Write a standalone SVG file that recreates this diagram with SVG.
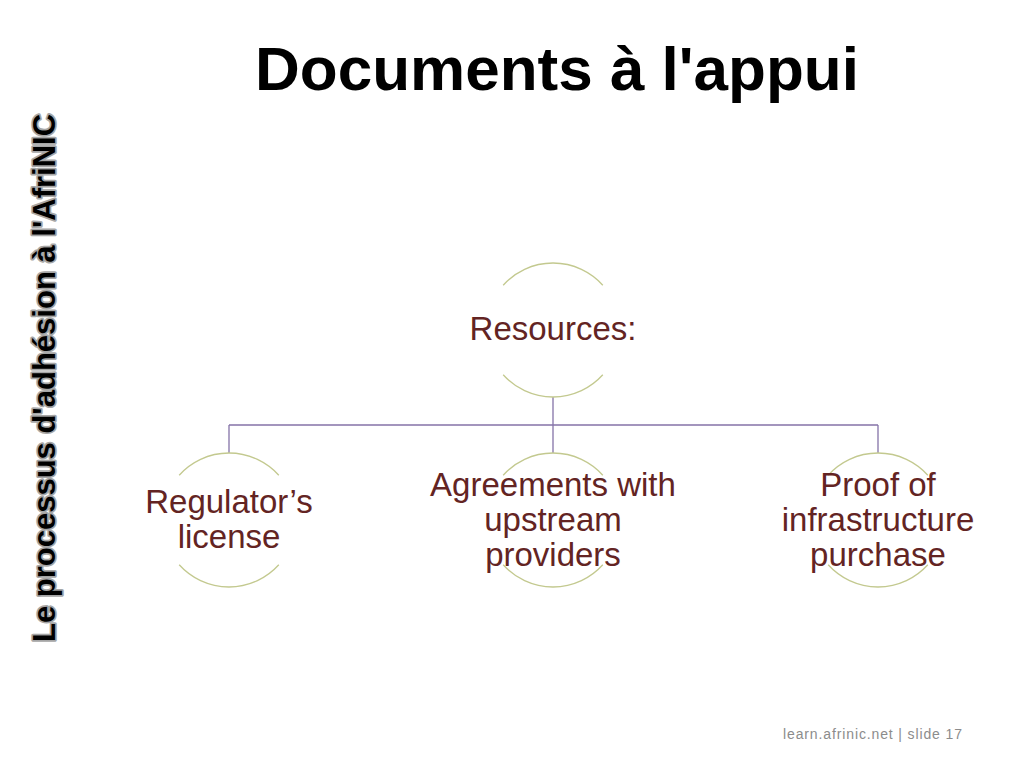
<svg xmlns="http://www.w3.org/2000/svg" width="1024" height="768" viewBox="0 0 1024 768">
<style>
.title{font-family:"Liberation Sans",Arial,sans-serif;font-weight:bold;font-size:62px;fill:#000;}
.side{font-family:"Liberation Sans",Arial,sans-serif;font-weight:bold;font-size:31px;fill:#000;stroke:#a6a6a6;stroke-width:3.5px;paint-order:stroke;stroke-linejoin:round;}
.lbl{font-family:"Liberation Sans",Arial,sans-serif;font-size:33px;fill:#632423;text-anchor:middle;}
.arc{fill:none;stroke:#c3c98f;stroke-width:1.3;}
.conn{fill:none;stroke:#8573a8;stroke-width:1.3;}
.foot{font-family:"Liberation Sans",Arial,sans-serif;font-size:14px;fill:#8c8c8c;}
</style>
<rect width="1024" height="768" fill="#fff"/>
<text class="title" x="557" y="90" text-anchor="middle">Documents à l'appui</text>
<text class="side" transform="translate(55,378) rotate(-90)" text-anchor="middle">Le processus d'adhésion à l'AfriNIC</text>
<g id="connectors">
<path class="conn" d="M553 397 V425 M229 425 H878 M229 425 V453 M553 425 V453 M878 425 V453"/>
</g>
<g id="node-resources">
<path class="arc" d="M503.2 285.2 A67 67 0 0 1 602.8 285.2 M602.8 374.8 A67 67 0 0 1 503.2 374.8"/>
<text class="lbl" x="553" y="340">Resources:</text>
</g>
<g id="node-regulator">
<path class="arc" d="M179.2 475.2 A67 67 0 0 1 278.8 475.2 M278.8 564.8 A67 67 0 0 1 179.2 564.8"/>
<text class="lbl" x="229" y="513">Regulator’s</text>
<text class="lbl" x="229" y="548">license</text>
</g>
<g id="node-agreements">
<path class="arc" d="M503.2 475.2 A67 67 0 0 1 602.8 475.2 M602.8 564.8 A67 67 0 0 1 503.2 564.8"/>
<text class="lbl" x="553" y="496">Agreements with</text>
<text class="lbl" x="553" y="531">upstream</text>
<text class="lbl" x="553" y="566">providers</text>
</g>
<g id="node-proof">
<path class="arc" d="M828.2 475.2 A67 67 0 0 1 927.8 475.2 M927.8 564.8 A67 67 0 0 1 828.2 564.8"/>
<text class="lbl" x="878" y="496">Proof of</text>
<text class="lbl" x="878" y="531">infrastructure</text>
<text class="lbl" x="878" y="566">purchase</text>
</g>
<text class="foot" x="783" y="739" textLength="179" lengthAdjust="spacing">learn.afrinic.net | slide 17</text>
</svg>
